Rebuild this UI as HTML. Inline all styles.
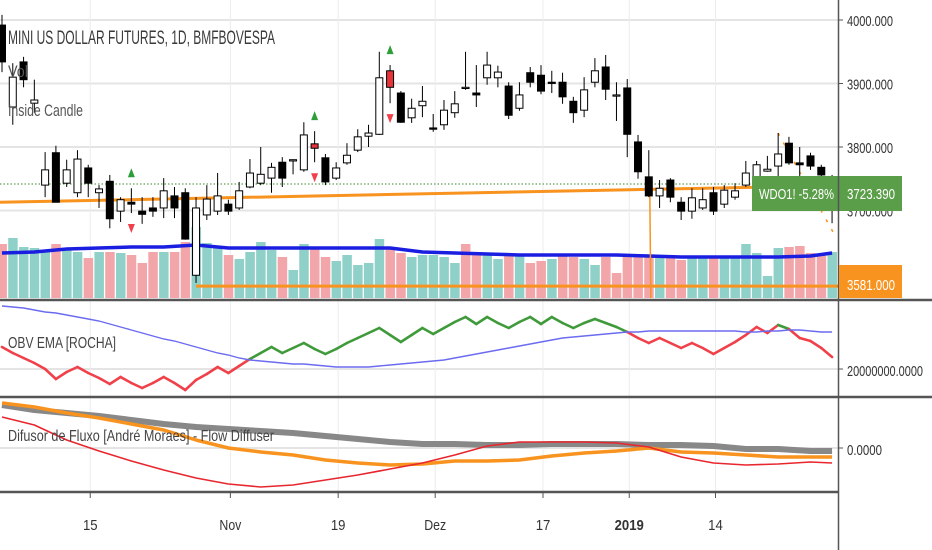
<!DOCTYPE html>
<html><head><meta charset="utf-8">
<style>
html,body{margin:0;padding:0;background:#fff;}
svg{display:block;font-family:"Liberation Sans",sans-serif;}
</style></head>
<body>
<svg id="chart" width="932" height="550" viewBox="0 0 932 550">
  <g id="grid"></g>
  <g id="vol"></g>
  <g id="main"></g>
  <g id="obv"></g>
  <g id="diff"></g>
  <g id="frame"></g>
</svg>
<script>
const opens=[3992,3863,3934,3869,3740,3791,3743,3728,3767,3728,3746,3699,3713,3699,3704,3704,3723,3728,3598,3693,3699,3710,3704,3737,3743,3751,3776,3778,3764,3805,3783,3751,3775,3795,3817,3820,3920,3885,3846,3865,3830,3835,3854,3893,3885,3909,3909,3896,3861,3917,3913,3902,3902,3872,3858,3902,3926,3882,3893,3808,3753,3723,3748,3713,3699,3704,3728,3710,3721,3740,3753,3762,3770,3806,3775,3786,3768,3748];
const highs=[4008,3932,3942,3906,3792,3802,3780,3795,3772,3740,3756,3721,3735,3721,3721,3751,3737,3735,3721,3740,3759,3717,3745,3781,3800,3775,3784,3780,3839,3825,3789,3776,3806,3828,3835,3950,3929,3888,3876,3896,3852,3874,3888,3950,3929,3950,3928,3902,3902,3926,3929,3920,3917,3879,3910,3940,3945,3902,3907,3819,3795,3748,3751,3721,3735,3735,3737,3740,3743,3778,3778,3786,3822,3816,3800,3791,3772,3756];
const lows=[3918,3835,3894,3854,3721,3713,3737,3721,3721,3704,3672,3682,3696,3679,3690,3688,3688,3654,3586,3685,3693,3693,3701,3735,3740,3728,3737,3757,3761,3776,3740,3748,3772,3792,3800,3819,3869,3838,3838,3847,3824,3827,3846,3890,3863,3898,3894,3844,3857,3894,3883,3885,3868,3838,3847,3894,3874,3841,3784,3750,3721,3704,3713,3685,3687,3701,3693,3704,3717,3737,3748,3761,3748,3772,3748,3764,3751,3680];
const closes=[3934,3910,3906,3874,3764,3713,3764,3781,3743,3734,3687,3717,3710,3694,3699,3731,3704,3655,3704,3718,3723,3699,3731,3759,3757,3768,3751,3780,3819,3798,3745,3767,3787,3816,3822,3909,3894,3839,3861,3872,3828,3858,3868,3894,3882,3929,3918,3850,3882,3902,3888,3901,3879,3854,3890,3920,3891,3882,3820,3761,3723,3735,3721,3699,3720,3717,3699,3732,3731,3759,3772,3765,3789,3775,3772,3770,3756,3723];
const insideIdx=[29,36];
const signalIdx=[12,29,36];
const volumes=[540,600,510,500,460,540,500,460,400,460,460,450,430,350,460,460,460,560,710,550,500,430,390,460,560,480,410,280,540,500,410,370,430,330,350,590,500,450,410,430,430,410,350,540,430,430,390,430,430,350,370,390,430,410,390,330,410,250,410,420,430,430,410,380,400,410,410,410,410,540,450,220,500,510,520,450,430,460];
const volDir="PTTTTPTTPTPTPPPTPPTTTPTTTTPTTPPTTTTTPPTTTTTPPTTPTPPTPPTTPPPPPTPPTTPTTTTTTPPPPT";
const smoothIdx=[0,3,6,9,12,15,18,21,24,27,30,33,36,39,42,45,48,51,54,57,60,63,66,69,72,75,77];
const volMA=[450,460,490,500,510,510,530,500,500,500,500,500,500,460,450,440,430,430,430,430,420,410,410,410,410,420,450];
const obvVals=[3440,3320,3220,3120,3000,2800,2940,3040,2920,2820,2700,2840,2720,2620,2720,2840,2720,2580,2780,2900,3040,2920,3060,3200,3320,3440,3320,3420,3520,3400,3300,3400,3520,3620,3720,3820,3680,3540,3680,3820,3700,3820,3940,4040,3900,4040,3920,3820,3940,4040,3900,4040,3920,3820,3920,4000,3920,3840,3740,3620,3520,3620,3520,3420,3520,3420,3300,3420,3540,3680,3840,3720,3880,3800,3620,3560,3420,3240];
const obvEma=[4260,4240,4220,4180,4140,4120,4080,4040,4000,3960,3900,3840,3780,3720,3660,3600,3560,3500,3440,3380,3320,3280,3220,3180,3160,3140,3120,3100,3100,3080,3060,3040,3040,3040,3040,3060,3080,3100,3120,3140,3160,3180,3220,3260,3300,3340,3380,3420,3460,3500,3540,3580,3620,3640,3660,3680,3700,3720,3740,3740,3760,3760,3760,3760,3760,3760,3760,3760,3760,3740,3740,3760,3760,3780,3780,3760,3740,3740];
const diffGray=[88,78,72,66,58,50,44,40,36,32,26,20,14,10,10,8,8,10,10,10,8,8,6,0,0,-4,-4];
const diffOrange=[92,84,72,62,50,38,18,2,-6,-12,-22,-28,-32,-30,-24,-24,-22,-14,-8,-4,2,-6,-8,-12,-16,-16,-16];
const diffRed=[64,48,18,-4,-24,-42,-58,-70,-76,-72,-62,-52,-40,-28,-12,6,14,14,14,12,4,-16,-28,-32,-30,-26,-28];
const trendPrices=[3713,3739];
const hLevel=3581;
const vLineIdx=60;
const yTicks=[4000,3900,3800,3700];
const xTickLabels=["15","Nov","19","Dez","17","2019","14"];
const xTickIdx=[8,21,31,40,50,58,66];

const NS="http://www.w3.org/2000/svg";
const PLOT_R=838;
const xI=i=>2+i*10.78;
const yP=p=>20+(4000-p)*0.635;
const yV=v=>298-v/10;
const yO=v=>369-(v-3000)/20;
const yD=v=>449-v/2;
function mk(tag,attrs,parent){const e=document.createElementNS(NS,tag);for(const k in attrs)e.setAttribute(k,attrs[k]);parent.appendChild(e);return e;}
const grid=document.getElementById('grid'),vol=document.getElementById('vol'),main=document.getElementById('main'),obv=document.getElementById('obv'),diff=document.getElementById('diff'),frame=document.getElementById('frame');

yTicks.forEach(t=>{const l=mk('line',{x1:0,x2:PLOT_R,y1:yP(t),y2:yP(t),stroke:'#e4e4e4','stroke-width':2},grid);

});
[369].forEach(y=>{const l=mk('line',{x1:0,x2:PLOT_R,y1:y,y2:y,stroke:'#e4e4e4','stroke-width':2},grid);

});
[448].forEach(y=>{const l=mk('line',{x1:0,x2:PLOT_R,y1:y,y2:y,stroke:'#e4e4e4','stroke-width':2},grid);

});
xTickIdx.forEach(i=>{const l=mk('line',{x1:xI(i)+2,x2:xI(i)+2,y1:0,y2:492,stroke:'#ececec','stroke-width':1},grid);

});

volumes.forEach((v,i)=>{const r=mk('rect',{x:xI(i)-4.6,y:yV(v),width:9.5,height:298-yV(v),fill:volDir[i]==='T'?'#8fd1c8':'#f3a6aa'},vol);

});
const vma=mk('polyline',{points:smoothIdx.map((i,k)=>xI(i)+','+yV(volMA[k])).join(' '),fill:'none',stroke:'#1a1ee0','stroke-width':3.5},vol);



const tl=mk('line',{x1:0,x2:xI(77),y1:yP(trendPrices[0]),y2:yP(trendPrices[1]),stroke:'#f7931e','stroke-width':3},main);


const hl=mk('line',{x1:xI(18),x2:PLOT_R,y1:yP(hLevel),y2:yP(hLevel),stroke:'#f7931e','stroke-width':3},main);


const vl=mk('line',{x1:xI(vLineIdx)+1,x2:xI(vLineIdx)+2,y1:yP(closes[vLineIdx])-4,y2:298,stroke:'#f7931e','stroke-width':1.5},main);


const dl=mk('line',{x1:0,x2:PLOT_R,y1:184,y2:184,stroke:'#3d8b2e','stroke-width':1,'stroke-dasharray':'1.5,2'},main);


const pj=mk('line',{x1:778,y1:133,x2:833,y2:232,stroke:'#f7931e','stroke-width':1.5,'stroke-dasharray':'3,8'},main);



opens.forEach((o,i)=>{const c=closes[i],x=xI(i);const up=c>=o;const ins=insideIdx.includes(i);
 const w=mk('line',{x1:x,x2:x,y1:yP(highs[i]),y2:yP(lows[i]),stroke:'#000','stroke-width':1},main);
 
 
 const top=yP(Math.max(o,c)),bot=yP(Math.min(o,c));
 const b=mk('rect',{x:x-3.5,y:top,width:7,height:Math.max(1.2,bot-top),fill:ins?'#e5343a':(up?'#fff':'#000'),stroke:'#000','stroke-width':1},main);
 
 });
signalIdx.forEach(i=>{const x=xI(i),yu=yP(highs[i])-15,yd=yP(lows[i])+15;
 const u=mk('polygon',{points:`${x-3.5},${yu+4} ${x+3.5},${yu+4} ${x},${yu-5}`,fill:'#2e9e3a'},main);
 
 
 const d=mk('polygon',{points:`${x-3.5},${yd-4} ${x+3.5},${yd-4} ${x},${yd+5}`,fill:'#f0404a'},main);
 
 });

for(let i=0;i<obvVals.length-1;i++){const above=obvVals[i]>=obvEma[i]&&obvVals[i+1]>=obvEma[i+1];
 const s=mk('line',{x1:xI(i),y1:yO(obvVals[i]),x2:xI(i+1),y2:yO(obvVals[i+1]),stroke:above?'#3f9a3a':'#f0414a','stroke-width':2.6,'stroke-linecap':'round'},obv);
 
 }
const ema=mk('polyline',{points:obvEma.map((v,i)=>xI(i)+','+yO(v)).join(' '),fill:'none',stroke:'#6b6bf0','stroke-width':1.4},obv);



[[diffGray,'#888',6,'diffuser-gray-line'],[diffOrange,'#f7931e',3.5,'diffuser-orange-line'],[diffRed,'#e8262e',1.6,'diffuser-red-line']].forEach(a=>{
 const p=mk('polyline',{points:smoothIdx.map((i,k)=>xI(i)+','+yD(a[0][k])).join(' '),fill:'none',stroke:a[1],'stroke-width':a[2],'stroke-linejoin':'round'},diff);
 
 });

const cover=mk('rect',{x:839,y:0,width:93,height:550,fill:'#fff'},frame);


const cover2=mk('rect',{x:0,y:493,width:839,height:57,fill:'#fff'},frame);


[[0,932,300],[0,932,397],[0,839,492]].forEach(s=>{const l=mk('line',{x1:s[0],x2:s[1],y1:s[2],y2:s[2],stroke:'#555','stroke-width':2.5},frame);
 
 });
const ax=mk('line',{x1:838.5,x2:838.5,y1:0,y2:550,stroke:'#555','stroke-width':1.5},frame);


function txt(s,x,y,attrs,name,inter){const t=mk('text',Object.assign({x:x,y:y,fill:'#333'},attrs),frame);t.textContent=s;
 
 return t;}
yTicks.forEach(t=>{const tk=mk('line',{x1:838,x2:843,y1:yP(t),y2:yP(t),stroke:'#555','stroke-width':1},frame);
 
 
 txt(t.toFixed(3),847,yP(t)+6,{'font-size':15,textLength:46,lengthAdjust:'spacingAndGlyphs'},'y-tick-label',false);});
txt('20000000.0000',847,376,{'font-size':15,textLength:76,lengthAdjust:'spacingAndGlyphs'},'obv-y-tick-label',false);
txt('0.0000',847,455,{'font-size':15,textLength:35,lengthAdjust:'spacingAndGlyphs'},'diffuser-y-tick-label',false);
[369,448].forEach(y=>{const tk=mk('line',{x1:838,x2:843,y1:y,y2:y,stroke:'#555','stroke-width':1},frame);
 
 });
xTickIdx.forEach((i,k)=>{const x=xI(i)+2;const tk=mk('line',{x1:x,x2:x,y1:492,y2:498,stroke:'#555','stroke-width':1},frame);
 
 
 const lab=xTickLabels[k];txt(lab,x,530,{'font-size':15,'text-anchor':'middle','font-weight':lab==='2019'?'bold':'normal',textLength:lab.length*7.3,lengthAdjust:'spacingAndGlyphs'},'x-tick-label',false);});

const lb=mk('rect',{x:752,y:176,width:150,height:35,fill:'#5b9e49'},frame);


const sep=mk('line',{x1:838.5,x2:838.5,y1:176,y2:211,stroke:'#555','stroke-width':1.5},frame);


txt('WDO1!  -5.28%',759,199,{'font-size':15,fill:'#fff',textLength:75,lengthAdjust:'spacingAndGlyphs'},'symbol-change-label',false);
txt('3723.390',847,199,{'font-size':15,fill:'#fff',textLength:48,lengthAdjust:'spacingAndGlyphs'},'last-price-label',false);
const ob=mk('rect',{x:839,y:265,width:63,height:33,fill:'#f7931e'},frame);


txt('3581.000',847,290,{'font-size':15,fill:'#fff',textLength:48,lengthAdjust:'spacingAndGlyphs'},'support-price-label',false);
txt('MINI US DOLLAR FUTURES, 1D, BMFBOVESPA',8,44,{'font-size':19,fill:'#3a3a3a',textLength:267,lengthAdjust:'spacingAndGlyphs'},'chart-title',false);
txt('Vol',8,77,{'font-size':17,fill:'#555',textLength:20,lengthAdjust:'spacingAndGlyphs'},'volume-legend',false);
txt('Inside Candle',8,116,{'font-size':17,fill:'#555',textLength:75,lengthAdjust:'spacingAndGlyphs'},'inside-candle-legend',false);
txt('OBV EMA [ROCHA]',8,348,{'font-size':16,fill:'#444',textLength:108,lengthAdjust:'spacingAndGlyphs'},'obv-legend',false);
txt('Difusor de Fluxo [André Moraes] - Flow Diffuser',8,441,{'font-size':16,fill:'#444',textLength:266,lengthAdjust:'spacingAndGlyphs'},'diffuser-legend',false);
</script>
</body></html>
